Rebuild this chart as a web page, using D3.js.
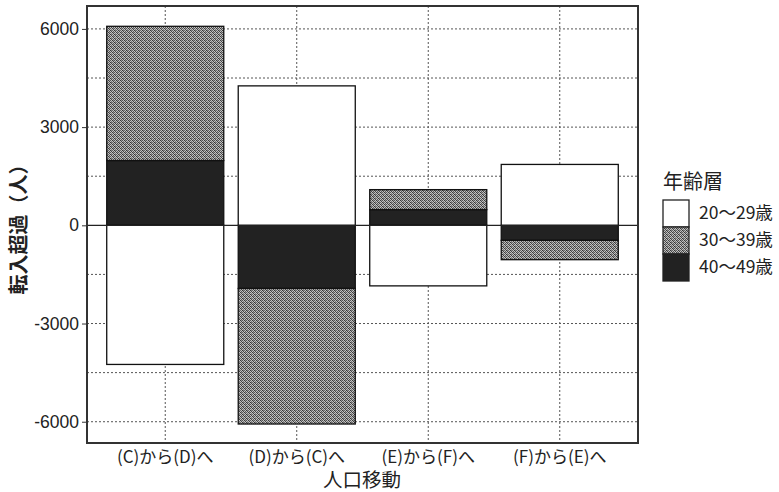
<!DOCTYPE html>
<html><head><meta charset="utf-8">
<script src="https://cdn.jsdelivr.net/npm/d3@7"></script>
<style>
body{margin:0;background:#fff;}
text{font-family:"Noto Sans CJK JP","Noto Sans",sans-serif;fill:#222;}
</style></head>
<body>
<svg id="c" width="779" height="492"></svg>
<script>
const categories = ["(C)から(D)へ","(D)から(C)へ","(E)から(F)へ","(F)から(E)へ"];
const seriesKeys = ["20〜29歳","30〜39歳","40〜49歳"];
const age20 = [-4250, 4260, -1850, 1860];
const age30 = [4100, -4140, 610, -590];
const age40 = [1980, -1930, 480, -460];
const yTicks = [-6000,-3000,0,3000,6000];
const yGrid = [-6000,-4500,-3000,-1500,1500,3000,4500,6000];
const yTitle = "転入超過（人）";
const xTitle = "人口移動";
const legendTitle = "年齢層";

const data = categories.map((c,i)=>({cat:c,"20〜29歳":age20[i],"30〜39歳":age30[i],"40〜49歳":age40[i]}));

const svg = d3.select("#c");
const L=87,R=638,T=6,B=443;

const defs = svg.append("defs");
const pat = defs.append("pattern").attr("id","hatch").attr("patternUnits","userSpaceOnUse")
  .attr("width",4).attr("height",4);
pat.append("rect").attr("width",4).attr("height",4).attr("fill","#c4c4c4");
const dots = [[0,0,"#3a3a3a"],[2,0,"#555"],[1,1,"#444"],[3,1,"#777"],[0,2,"#666"],[2,2,"#333"],[1,3,"#555"],[3,3,"#444"],[1,0,"#999"],[3,2,"#888"]];
dots.forEach(([px,py,c])=>pat.append("rect").attr("x",px).attr("y",py).attr("width",1).attr("height",1).attr("fill",c));

const fills = {"20〜29歳":"#fff","30〜39歳":"url(#hatch)","40〜49歳":"#222"};

const x = d3.scaleBand().domain(categories).range([L,R]).paddingInner(0.11).paddingOuter(0.15);
const y = d3.scaleLinear().domain([-6650,6700]).range([B,T]);

// grid
const g = svg.append("g");
g.selectAll(".hg").data(yGrid).join("line")
  .attr("x1",L).attr("x2",R).attr("y1",d=>y(d)).attr("y2",d=>y(d))
  .attr("stroke","#555").attr("stroke-width",1).attr("stroke-dasharray","2,2");
g.selectAll(".vg").data(categories).join("line")
  .attr("x1",d=>x(d)+x.bandwidth()/2).attr("x2",d=>x(d)+x.bandwidth()/2)
  .attr("y1",T).attr("y2",B)
  .attr("stroke","#555").attr("stroke-width",1).attr("stroke-dasharray","2,2");

// bars
const stack = d3.stack().keys(["40〜49歳","30〜39歳","20〜29歳"]).offset(d3.stackOffsetDiverging);
const series = stack(data);
svg.append("g").selectAll("g").data(series).join("g")
  .attr("fill",s=>fills[s.key])
  .selectAll("rect").data(s=>s.filter(d=>d[1]-d[0]!==0)).join("rect")
  .attr("x",d=>x(d.data.cat)).attr("width",x.bandwidth())
  .attr("y",d=>y(Math.max(d[0],d[1]))).attr("height",d=>Math.abs(y(d[0])-y(d[1])))
  .attr("stroke","#111").attr("stroke-width",1.3);

// zero line
svg.append("line").attr("x1",L).attr("x2",R).attr("y1",y(0)).attr("y2",y(0))
  .attr("stroke","#222").attr("stroke-width",1.2);

// frame
svg.append("rect").attr("x",L).attr("y",T).attr("width",R-L).attr("height",B-T)
  .attr("fill","none").attr("stroke","#333").attr("stroke-width",2);

// y axis
const ya = svg.append("g").attr("transform",`translate(${L},0)`)
  .call(d3.axisLeft(y).tickValues(yTicks).tickSize(5).tickPadding(3).tickFormat(d=>String(d)));
ya.attr("font-family","Liberation Sans, Arial, sans-serif").attr("font-size",17.5);
ya.select(".domain").remove();
ya.selectAll(".tick line").attr("stroke","#333");
ya.selectAll("text").style("font-family","Liberation Sans, Arial, sans-serif").attr("fill","#222");

// x axis labels
const xa = svg.append("g").attr("transform",`translate(0,${B})`)
  .call(d3.axisBottom(x).tickSize(0).tickPadding(8));
xa.select(".domain").remove();
xa.attr("font-size",17).attr("font-family",null);
xa.selectAll("text").attr("fill","#222");

// titles
svg.append("text").attr("x",362).attr("y",482).attr("text-anchor","middle")
  .attr("dominant-baseline","middle").attr("font-size",19.5).text(xTitle);
svg.append("text").attr("transform",`translate(26,${(T+B)/2}) rotate(-90)`)
  .attr("text-anchor","middle").attr("font-size",20).attr("font-weight","bold").text(yTitle);

// legend
const lg = svg.append("g");
lg.append("text").attr("x",663).attr("y",189).attr("font-size",20).text(legendTitle);
const legOrder = ["20〜29歳","30〜39歳","40〜49歳"];
legOrder.forEach((k,i)=>{
  lg.append("rect").attr("x",663).attr("y",200+i*27).attr("width",26).attr("height",27)
    .attr("fill",fills[k]).attr("stroke","#222").attr("stroke-width",1.3);
  lg.append("text").attr("x",699).attr("y",214+i*27).attr("dominant-baseline","middle")
    .attr("font-size",17.5).text(k);
});
</script>
</body></html>
